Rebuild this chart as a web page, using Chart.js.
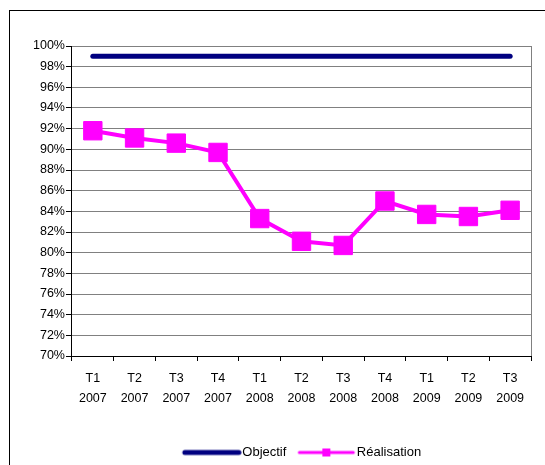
<!DOCTYPE html>
<html>
<head>
<meta charset="utf-8">
<script src="https://cdn.jsdelivr.net/npm/chart.js@4/dist/chart.umd.min.js"></script>
<style>
  html, body { margin: 0; padding: 0; background: #fff; }
  #wrap { position: relative; width: 545px; height: 465px; overflow: hidden; }
  #frame { position: absolute; left: 9px; top: 10px; width: 600px; height: 500px;
           border-left: 1px solid #000; border-top: 1px solid #000; }
  canvas { position: absolute; left: 0; top: 0; }
</style>
</head>
<body>
<div id="wrap">
  <div id="frame"></div>
  <canvas id="c" width="545" height="465"></canvas>
</div>
<script>
// Quarterly results against the target rate
const quarters = ['T1', 'T2', 'T3', 'T4', 'T1', 'T2', 'T3', 'T4', 'T1', 'T2', 'T3'];
const years = ['2007', '2007', '2007', '2007', '2008', '2008', '2008', '2008', '2009', '2009', '2009'];
const objectif = [99, 99, 99, 99, 99, 99, 99, 99, 99, 99, 99];
const realisation = [91.8, 91.1, 90.6, 89.7, 83.3, 81.1, 80.7, 85.0, 83.7, 83.5, 84.1];
const yMin = 70, yMax = 100, yStep = 2;

const labels = quarters.map((q, i) => [q, years[i]]);

const NAVY = '#000080';
const MAGENTA = '#FF00FF';
const FONT = 'Liberation Sans, Arial, sans-serif';

// Legend swatches: a plain thick line, and a line with a square marker
function swatch(color, width, marker) {
  const cv = document.createElement('canvas');
  cv.width = 66; cv.height = 12;
  const g = cv.getContext('2d');
  g.strokeStyle = color;
  g.lineWidth = width;
  g.lineCap = 'round';
  g.beginPath(); g.moveTo(9, 6); g.lineTo(63, 6); g.stroke();
  if (marker) {
    g.fillStyle = color;
    g.fillRect(32, 2, 8, 8);
  }
  return cv;
}

// Thin grey frame on the right side of the plot area
const rightEdge = {
  id: 'rightEdge',
  afterDatasetsDraw(chart) {
    const { ctx, chartArea: a } = chart;
    ctx.save();
    ctx.strokeStyle = '#808080';
    ctx.lineWidth = 1;
    ctx.beginPath();
    ctx.moveTo(Math.round(a.right) + 0.5, a.top);
    ctx.lineTo(Math.round(a.right) + 0.5, a.bottom);
    ctx.stroke();
    ctx.restore();
  }
};

new Chart(document.getElementById('c'), {
  type: 'line',
  data: {
    labels: labels,
    datasets: [
      {
        label: 'Objectif',
        data: objectif,
        borderColor: NAVY,
        backgroundColor: NAVY,
        borderWidth: 5,
        borderCapStyle: 'round',
        pointRadius: 0,
        tension: 0,
        order: 2
      },
      {
        label: 'Réalisation',
        data: realisation,
        borderColor: MAGENTA,
        backgroundColor: MAGENTA,
        borderWidth: 4,
        pointStyle: 'rect',
        pointRadius: 13,
        pointBorderWidth: 1,
        pointBackgroundColor: MAGENTA,
        pointBorderColor: MAGENTA,
        tension: 0,
        order: 1
      }
    ]
  },
  options: {
    responsive: false,
    animation: false,
    devicePixelRatio: 1,
    layout: { padding: { left: 32, right: 5, top: 46, bottom: -4 } },
    plugins: {
      tooltip: { enabled: false },
      legend: {
        position: 'bottom',
        fullSize: false,
        labels: {
          usePointStyle: true,
          pointStyleWidth: 54,
          padding: 10,
          color: '#000',
          font: { family: FONT, size: 13 },
          generateLabels: () => [
            { text: 'Objectif', pointStyle: swatch(NAVY, 5, false), fillStyle: NAVY, strokeStyle: NAVY, lineWidth: 0, hidden: false, datasetIndex: 0 },
            { text: 'Réalisation', pointStyle: swatch(MAGENTA, 3, true), fillStyle: MAGENTA, strokeStyle: MAGENTA, lineWidth: 0, hidden: false, datasetIndex: 1 }
          ]
        }
      }
    },
    scales: {
      x: {
        offset: true,
        afterFit: s => { s.height = 80; },
        grid: { display: true, drawOnChartArea: false, drawTicks: true, tickLength: 5, color: '#000', offset: true },
        border: { color: '#000', width: 1 },
        ticks: {
          color: '#000',
          font: { family: FONT, size: 12.5, lineHeight: 1.55 },
          padding: 8,
          maxRotation: 0,
          autoSkip: false
        }
      },
      y: {
        min: yMin,
        max: yMax,
        grid: { color: '#808080', lineWidth: 1, tickLength: 6, tickColor: '#000' },
        border: { color: '#000', width: 1 },
        ticks: {
          stepSize: yStep,
          color: '#000',
          padding: 1,
          font: { family: FONT, size: 12.5 },
          callback: v => v + '%'
        }
      }
    }
  },
  plugins: [rightEdge]
});
</script>
</body>
</html>
